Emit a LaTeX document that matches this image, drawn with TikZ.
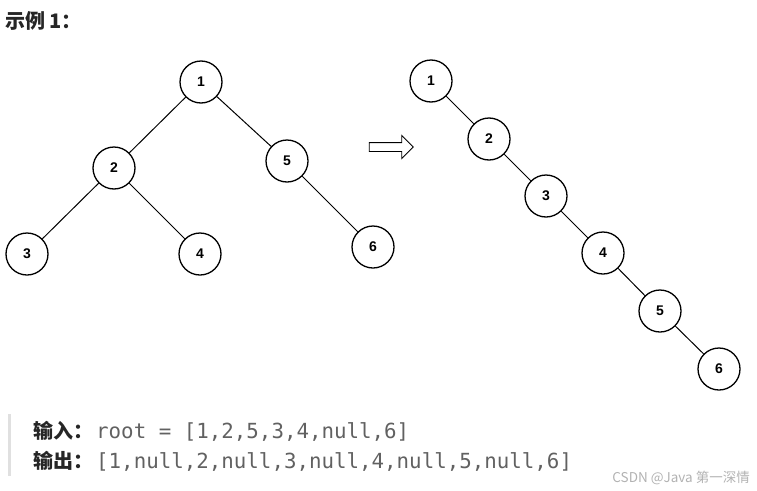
\documentclass[tikz,border=0pt]{standalone}
\usepackage{fontspec}
\setmainfont{Liberation Sans}
\setmonofont{DejaVu Sans Mono}
\newfontfamily\cjk{Noto Sans CJK SC}
\usetikzlibrary{shapes.arrows}

\begin{document}
\begin{tikzpicture}[
    x=1pt, y=-1pt,
    vtx/.style={draw, circle, line width=1.3pt, minimum size=42pt, inner sep=0pt, font=\bfseries\fontsize{14}{14}\selectfont},
    edge/.style={line width=1pt},
    code/.style={anchor=base west, font=\ttfamily\fontsize{20.8}{20.8}\selectfont, text=black!62, inner sep=0pt},
    label/.style={anchor=base west, font=\cjk\bfseries\fontsize{20}{20}\selectfont, text=black!85, inner sep=0pt},
]
\useasboundingbox (0,0) rectangle (757,490);

\node[anchor=base west, inner sep=0pt, font=\cjk\bfseries\fontsize{20}{20}\selectfont, text=black!85] (title) at (5,28) {示例 1：};

% left tree
\node[vtx] (a1) at (201,82) {1};
\node[vtx] (a2) at (114,168) {2};
\node[vtx] (a5) at (287,161) {5};
\node[vtx] (a3) at (27,254) {3};
\node[vtx] (a4) at (200,254) {4};
\node[vtx] (a6) at (373,247) {6};
\draw[edge] (a1) -- (a2);
\draw[edge] (a1) -- (a5);
\draw[edge] (a2) -- (a3);
\draw[edge] (a2) -- (a4);
\draw[edge] (a5) -- (a6);

% arrow
\node[single arrow, draw, line width=0.9pt, minimum height=44pt, minimum width=22pt,
      inner xsep=0pt, inner ysep=4pt, single arrow head extend=7pt] (arr) at (389,147) {};

% right chain
\node[vtx] (b1) at (431,81) {1};
\node[vtx] (b2) at (489,139) {2};
\node[vtx] (b3) at (546,196) {3};
\node[vtx] (b4) at (603,253) {4};
\node[vtx] (b5) at (660,311) {5};
\node[vtx] (b6) at (719,369) {6};
\foreach \u/\v in {b1/b2,b2/b3,b3/b4,b4/b5,b5/b6}
  \draw[edge] (\u) -- (\v);

% example text
\fill[black!12] (8,414) rectangle (11,476);
\node[label] (in) at (33,438) {输入：};
\node[code] (incode) at (96,438) {root = [1,2,5,3,4,null,6]};
\node[label] (out) at (33,468) {输出：};
\node[code] (outcode) at (96,468) {[1,null,2,null,3,null,4,null,5,null,6]};

\node[anchor=base east, inner sep=0pt, font=\cjk\fontsize{13.5}{13.5}\selectfont, text=black!30] (mark) at (750,482) {CSDN @Java 第一深情};
\end{tikzpicture}
\end{document}
